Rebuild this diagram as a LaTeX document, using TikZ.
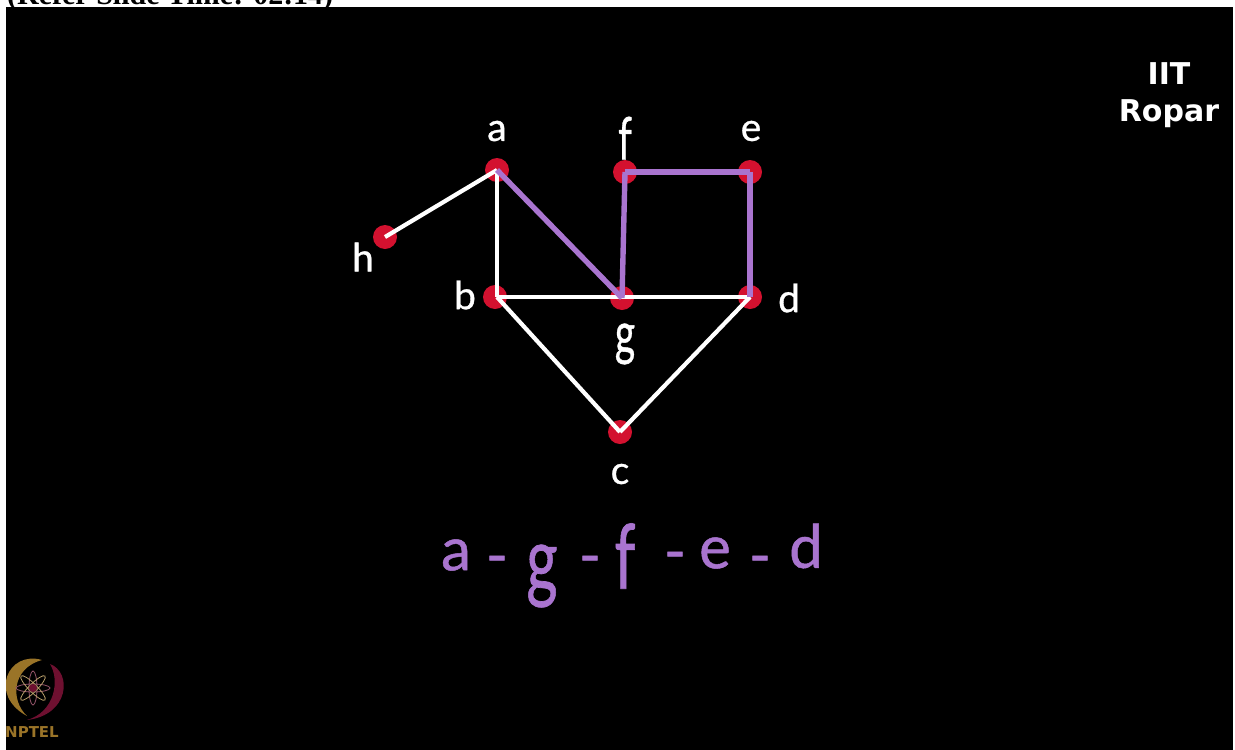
\documentclass[tikz,border=0pt]{standalone}
\usepackage{fontspec}
\usepackage{xcolor}
\usepackage{tikz}
\setmainfont{Lato}[FakeBold=0.8]
\newfontfamily\logofont{DejaVu Sans}
\newfontfamily\capfont{Liberation Serif}
\definecolor{mBoard}{HTML}{000000}
\definecolor{mDot}{HTML}{D3112F}
\definecolor{mPath}{HTML}{A974CF}
\definecolor{mGold}{HTML}{9A7428}
\definecolor{mWine}{HTML}{6E1030}
\newcommand{\tall}[1]{\scalebox{1}[1.5]{#1}}
\begin{document}
\begin{tikzpicture}[
        x=1pt, y=-1pt,
        dot/.style={circle, fill=mDot, inner sep=0pt, minimum size=24pt},
        lab/.style={text=white, font=\fontsize{39}{39}\selectfont, inner sep=0pt},
        seq/.style={text=mPath, font=\fontsize{60}{60}\selectfont, inner sep=0pt},
        edge/.style={white, line width=4.2pt},
        walk/.style={mPath, line width=5.4pt},
    ]
        \useasboundingbox (0,0) rectangle (1235,750);
        \node[anchor=base west, inner sep=0pt, font=\capfont\bfseries\fontsize{30}{30}\selectfont] (cap) at (7,4) {(Refer Slide Time: 02:14)};
        \fill[mBoard] (6,7) rectangle (1233,750);

        \node[dot] (a) at (497,170) {};
        \node[dot] (f) at (625,172) {};
        \node[dot] (e) at (750,172) {};
        \node[dot] (h) at (385,237) {};
        \node[dot] (b) at (495,297) {};
        \node[dot] (g) at (622,298) {};
        \node[dot] (d) at (750,297) {};
        \node[dot] (c) at (620,432) {};

        \draw[edge] (h.center) -- (a.center);
        \draw[edge] (a.center) -- (a.center |- b.center);
        \draw[edge] (a.center |- b.center) -- (d.center);
        \draw[edge] (a.center |- b.center) -- (c.center);
        \draw[edge] (c.center) -- (d.center);
        \draw[walk] (a.center) -- (g.center);
        \draw[walk] (g.center) -- (f.center);
        \draw[walk] (f.center) -- (e.center);
        \draw[walk] (e.center) -- (d.center);

        \node[lab] (la) at (497,131) {a};
        \node[lab] (lf) at (625,138) {\tall{f}};
        \node[lab] (le) at (751,131) {e};
        \node[lab] (lh) at (363,257) {h};
        \node[lab] (lb) at (465,295) {b};
        \node[lab] (lg) at (625,344) {\tall{g}};
        \node[lab] (ld) at (789,298) {d};
        \node[lab] (lc) at (620,474) {c};

        \node[seq] (sa) at (456,555) {a};
        \node[seq] (s1) at (497,566) {-};
        \node[seq] (sg) at (542,576) {\tall{g}};
        \node[seq] (s2) at (590,566) {-};
        \node[seq] (sf) at (625,556) {\tall{f}};
        \node[seq] (s3) at (675,562) {-};
        \node[seq] (se) at (715,553) {e};
        \node[seq] (s4) at (760,566) {-};
        \node[seq] (sd) at (806,546) {d};

        \node[font=\logofont\bfseries\fontsize{30}{37}\selectfont, text=white, align=center, inner sep=0pt] (iit) at (1169,95) {IIT\\Ropar};

        % logo
        \begin{scope}
            \clip (6,650) rectangle (70,750);
            \fill[mWine] (50,664) .. controls (72,672) and (70,715) .. (27,720) .. controls (55,712) and (60,680) .. (50,664) -- cycle;
            \fill[mGold] (42,660) .. controls (8,650) and (-12,695) .. (27,716) .. controls (10,700) and (12,668) .. (42,660) -- cycle;
            \draw[mWine!70, line width=.8pt] (33,688) ellipse (17 and 4);
            \draw[mWine!70, line width=.8pt, rotate around={90:(33,688)}] (33,688) ellipse (17 and 4);
            \draw[mGold!70, line width=.8pt, rotate around={45:(33,688)}] (33,688) ellipse (17 and 4);
            \draw[mGold!70, line width=.8pt, rotate around={135:(33,688)}] (33,688) ellipse (17 and 4);
            \fill[mWine] (33,688) circle (4);
            \node[font=\logofont\bfseries\fontsize{15}{15}\selectfont, text=mGold, inner sep=0pt, anchor=base west] (nptel) at (5,737) {NPTEL};
        \end{scope}
    \end{tikzpicture}
\end{document}
